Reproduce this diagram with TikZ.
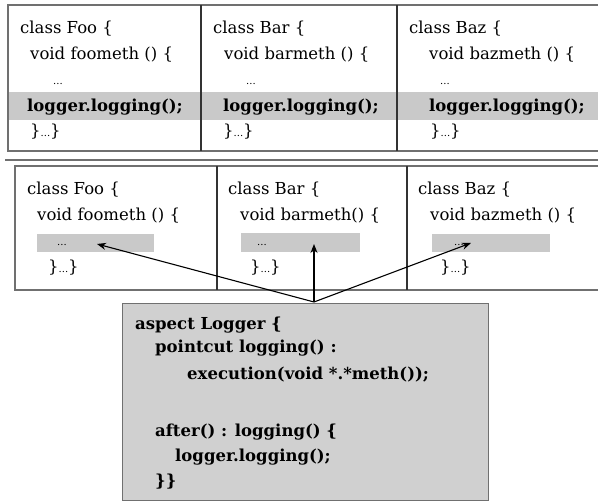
\documentclass[tikz,border=0pt]{standalone}
\usepackage{fontspec}
\setmainfont{DejaVu Serif}
\usetikzlibrary{arrows.meta}
\definecolor{bandgray}{HTML}{C9C9C9}
\definecolor{boxgray}{HTML}{D0D0D0}
\definecolor{framegray}{HTML}{707070}
\tikzset{
  code/.style={anchor=base west, inner sep=0pt, font=\fontsize{16.5}{19}\selectfont},
  bcode/.style={code, font=\fontsize{16.5}{19}\selectfont\bfseries},
  frame/.style={draw=framegray, line width=1.6pt},
  divider/.style={draw=black!80, line width=1.4pt},
  band/.style={fill=bandgray, draw=none},
  arr/.style={draw=black, line width=1.1pt, -{Stealth[length=9pt,width=7pt]}}
}
\newcommand{\smalldots}{{\fontsize{10}{12}\selectfont ...}}
\newcommand{\dd}{\}\smalldots\}}
\begin{document}
\begin{tikzpicture}[x=1pt,y=-1pt]
\useasboundingbox (0,0) rectangle (598,502);
% ---------- top table ----------
\path[band] (8,92) rectangle (605,120);
\draw[frame] (8,5) rectangle (605,151);
\draw[divider] (201,5) -- (201,151);
\draw[divider] (397,5) -- (397,151);
% column 1
\node[code] (a1) at (20,34) {class Foo \{};
\node[code] (a2) at (30,60) {void foometh () \{};
\node[code] (a3) at (53,85) {\smalldots};
\node[bcode] (a4) at (27,112) {logger.logging();};
\node[code] (a5) at (30,137) {\dd};
% column 2
\node[code] (b1) at (213,34) {class Bar \{};
\node[code] (b2) at (224,60) {void barmeth () \{};
\node[code] (b3) at (246,85) {\smalldots};
\node[bcode] (b4) at (223,112) {logger.logging();};
\node[code] (b5) at (223,137) {\dd};
% column 3
\node[code] (c1) at (409,34) {class Baz \{};
\node[code] (c2) at (429,60) {void bazmeth () \{};
\node[code] (c3) at (440,85) {\smalldots};
\node[bcode] (c4) at (429,112) {logger.logging();};
\node[code] (c5) at (430,137) {\dd};
% separator
\draw[draw=framegray, line width=1.4pt] (5,160) -- (605,160);
% ---------- bottom table ----------
\draw[frame] (15,166) rectangle (605,290);
\draw[divider] (217,166) -- (217,290);
\draw[divider] (407,166) -- (407,290);
\node[band, minimum width=117pt, minimum height=18pt, anchor=north west, inner sep=0pt] (bar1) at (37,234) {};
\node[band, minimum width=119pt, minimum height=19pt, anchor=north west, inner sep=0pt] (bar2) at (241,233) {};
\node[band, minimum width=118pt, minimum height=18pt, anchor=north west, inner sep=0pt] (bar3) at (432,234) {};
\node[code] (d1) at (27,195) {class Foo \{};
\node[code] (d2) at (37,221) {void foometh () \{};
\node[code] (d3) at (57,246) {\smalldots};
\node[code] (d4) at (48,273) {\dd};
\node[code] (e1) at (228,195) {class Bar \{};
\node[code] (e2) at (240,221) {void barmeth() \{};
\node[code] (e3) at (257,246) {\smalldots};
\node[code] (e4) at (250,273) {\dd};
\node[code] (f1) at (418,195) {class Baz \{};
\node[code] (f2) at (430,221) {void bazmeth () \{};
\node[code] (f3) at (454,246) {\smalldots};
\node[code] (f4) at (440,273) {\dd};
% ---------- aspect box ----------
\node[fill=boxgray, draw=framegray, line width=1.4pt, minimum width=366pt, minimum height=197pt, anchor=north west, inner sep=0pt] (asp) at (122,303) {};
\node[bcode] (g1) at (135,330) {aspect Logger \{};
\node[bcode] (g2) at (155,353) {pointcut logging() :};
\node[bcode] (g3) at (187,380) {execution(void *.*meth());};
\node[bcode] (g4) at (155,437) {after() : logging() \{};
\node[bcode] (g5) at (175,462) {logger.logging();};
\node[bcode] (g6) at (155,487) {\}\}};
% ---------- arrows ----------
\coordinate (apex) at (314,302);
\coordinate (t1) at (97,244);
\coordinate (t2) at (314,244);
\coordinate (t3) at (471,243);
\draw[arr] (apex) -- (t1);
\draw[arr] (apex) -- (t2);
\draw[arr] (apex) -- (t3);
\end{tikzpicture}
\end{document}
